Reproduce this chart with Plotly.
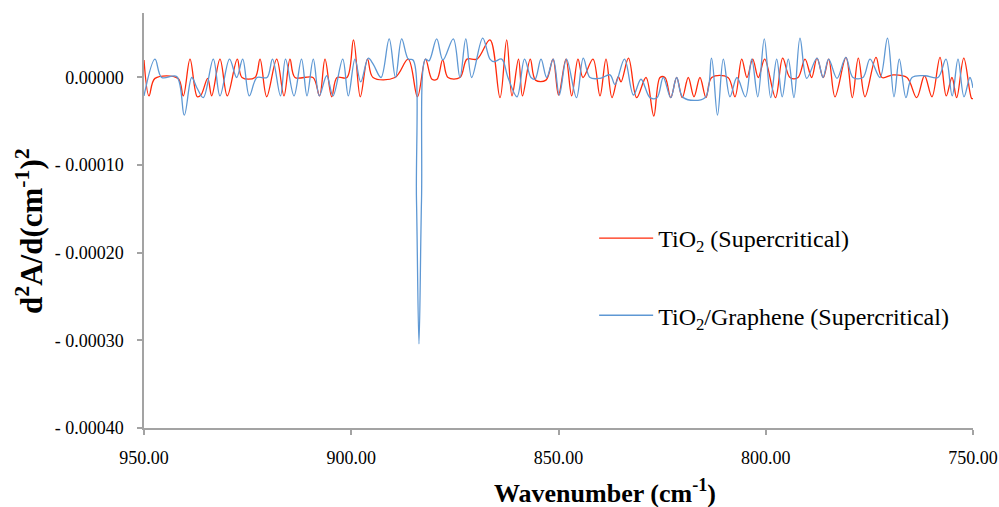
import plotly.graph_objects as go

# Second-derivative FTIR spectra, values in units of 1e-5
UNIT = 1e-5

wn_tio2 = [950.00, 948.79, 947.35, 941.80, 940.52, 938.90, 937.14, 936.25, 934.63, 933.67,
           931.67, 929.90, 927.49, 926.36, 923.22, 922.01, 920.40, 917.99, 916.23, 914.78,
           913.57, 909.23, 907.66, 906.33, 904.72, 903.44, 901.03, 899.46, 897.82, 896.08,
           894.75, 889.45, 886.26, 884.02, 882.09, 880.52, 879.31, 877.94, 876.66, 873.77,
           872.08, 869.66, 866.53, 864.11, 862.50, 861.22, 859.65, 858.69, 856.81, 855.55,
           853.02, 851.33, 850.00, 848.19, 846.82, 845.30, 844.09, 841.68, 839.99, 838.54,
           837.09, 835.58, 834.92, 833.11, 831.14, 828.89, 827.01, 825.51, 824.31, 822.93,
           821.49, 820.14, 818.69, 817.31, 815.87, 814.42, 813.04, 809.11, 807.42, 805.80,
           804.53, 803.15, 801.80, 800.26, 797.65, 795.91, 794.15, 792.22, 790.53, 788.92,
           787.64, 786.12, 784.82, 783.30, 780.64, 779.12, 777.67, 776.06, 773.40, 771.96,
           769.30, 765.93, 763.59, 761.70, 759.90, 757.96, 756.45, 755.07, 753.94, 752.22,
           750.32, 750.00]
d2_tio2 = [2.0, -2.1, -0.1, -0.1, -2.1, 2.1, -2.2, -2.0, -0.1, -2.1,
           2.1, -2.1, 2.1, 0.0, 0.0, 2.1, -2.2, 2.1, -2.1, 2.1,
           0.0, 0.0, -2.1, 2.1, -2.2, 0.0, 0.0, 4.3, -2.2, 2.1,
           0.0, 0.0, 2.1, -2.2, 2.1, -0.2, -0.2, 2.0, 0.0, 0.0,
           2.1, 2.1, 4.3, -2.3, 4.3, -2.1, 2.1, -2.1, 2.1, -0.3,
           -0.3, 2.1, -2.0, 2.1, -2.1, 2.1, 0.0, 2.1, -2.1, 2.1,
           -2.3, 0.1, -0.5, 2.2, -2.3, 0.0, -4.4, 0.0, 0.0, -2.3,
           0.0, -2.3, 0.0, -2.2, 0.0, -2.3, 0.0, 0.0, -2.2, 2.1,
           0.0, 2.1, 0.0, 2.1, -2.3, 2.2, 0.0, 0.0, 2.1, 0.0,
           2.2, 0.0, 2.1, -2.2, 2.3, -2.3, 2.2, -2.2, 2.3, 0.0,
           0.3, 0.0, -2.3, 0.2, -2.2, 2.3, -2.1, 0.0, -2.3, 2.2,
           -2.4, -2.4]

wn_tio2_gr = [950.00, 947.35, 945.73, 942.11, 940.28, 938.49, 937.21, 935.69, 933.28, 931.67,
              929.37, 927.64, 926.19, 924.60, 922.74, 920.33, 919.00, 917.07, 915.86, 913.81,
              912.00, 910.68, 909.16, 907.71, 905.92, 904.40, 902.06, 900.71, 899.10, 897.72,
              895.89, 894.68, 892.82, 890.85, 889.33, 887.83, 886.24, 885.10, 884.26, 883.66,
              883.05, 882.09, 881.24, 879.39, 877.87, 875.38, 873.77, 872.37, 870.94, 868.29,
              866.53, 865.56, 863.70, 862.19, 860.01, 858.20, 856.64, 855.67, 854.22, 852.85,
              851.26, 849.81, 848.07, 845.66, 844.02, 842.40, 839.99, 837.58, 836.37, 834.08,
              831.91, 830.10, 827.93, 826.24, 824.72, 822.93, 821.49, 819.89, 814.66, 813.09,
              811.64, 810.24, 808.63, 806.94, 804.89, 803.39, 801.92, 800.35, 798.81, 797.36,
              796.03, 794.56, 793.19, 791.74, 790.12, 787.64, 786.19, 784.82, 782.81, 780.69,
              778.95, 776.54, 774.85, 772.44, 770.63, 769.06, 767.78, 766.17, 764.72, 761.58,
              758.45, 756.52, 755.02, 753.62, 752.17, 750.73, 750.00]
d2_tio2_gr = [-2.1, 2.1, 0.0, 0.1, -4.3, 0.0, -1.2, -2.3, 2.1, -2.1,
              2.1, 0.0, 2.1, -2.1, 0.0, 0.0, 2.1, -2.1, 2.1, -2.1,
              2.1, -2.1, 2.1, -2.1, 0.2, -2.1, 2.1, -2.1, 2.1, -0.5,
              2.2, 1.5, 0.0, 4.4, 0.0, 4.4, 2.1, 2.0, -14.0, -30.4,
              -14.0, 2.1, 1.9, 4.4, 2.0, 4.4, 0.0, 4.4, 0.0, 4.5,
              2.1, 1.8, 2.1, 0.0, -2.2, 2.1, 0.0, -0.2, 2.1, 0.0,
              2.1, -2.0, 2.1, -2.3, 2.2, 0.0, -0.1, 0.3, -0.8, 2.1,
              -2.0, -0.2, -2.3, -2.3, 0.0, -2.3, 0.0, -2.3, -2.3, 2.2,
              -4.3, 2.1, -2.2, 0.0, -2.2, 2.1, -2.2, 4.4, -2.3, 2.1,
              -2.2, 2.1, -2.3, 4.5, -0.1, 2.2, 0.0, 2.1, -0.1, 2.3,
              0.0, 0.0, 2.1, 0.0, 4.5, -2.2, 2.1, -2.3, 0.0, 0.2,
              0.0, 2.1, -2.1, 2.1, -2.2, 0.0, -1.2]

x_ticks = [950, 900, 850, 800, 750]
x_tick_text = ["950.00", "900.00", "850.00", "800.00", "750.00"]
y_ticks = [0.0, -0.0001, -0.0002, -0.0003, -0.0004]
y_tick_text = ["0.00000", "- 0.00010", "- 0.00020", "- 0.00030", "- 0.00040"]

SERIF = "Liberation Serif"
RED = "#ff2a0a"
BLUE = "#5e98d4"
AXIS = "#a3a3a3"

fig = go.Figure()
fig.add_trace(go.Scatter(
    x=wn_tio2, y=[v * UNIT for v in d2_tio2], mode="lines",
    line=dict(color=RED, width=1.3, shape="spline", smoothing=1.0),
    name="TiO<sub>2</sub> (Supercritical)", legendgroup="a"))
fig.add_trace(go.Scatter(
    x=wn_tio2_gr, y=[v * UNIT for v in d2_tio2_gr], mode="lines",
    line=dict(color=BLUE, width=1.3, shape="spline", smoothing=1.0),
    name="TiO<sub>2</sub>/Graphene (Supercritical)", legendgroup="b"))

fig.update_layout(
    width=999, height=507,
    margin=dict(l=144, r=26, t=13, b=79, autoexpand=False),
    paper_bgcolor="white", plot_bgcolor="white",
    font=dict(family=SERIF, color="black", size=18),
    showlegend=True,
    legend=dict(x=0.543, y=0.364, xanchor="left", yanchor="middle",
                font=dict(family=SERIF, size=24, color="black"),
                bgcolor="rgba(0,0,0,0)", itemwidth=54,
                traceorder="grouped", tracegroupgap=43),
    xaxis=dict(range=[950, 750], tickvals=x_ticks, ticktext=x_tick_text,
               showgrid=False, zeroline=False, showline=True, automargin=False,
               linecolor=AXIS, linewidth=1.5, ticks="outside", ticklen=5,
               tickcolor=AXIS, tickwidth=1.5, ticklabelstandoff=8,
               tickfont=dict(family=SERIF, size=18)),
    yaxis=dict(range=[-0.0004, 0.0000736], tickvals=y_ticks, ticktext=y_tick_text,
               showgrid=False, zeroline=False, showline=True, automargin=False,
               linecolor=AXIS, linewidth=1.5, ticks="outside", ticklen=5,
               tickcolor=AXIS, tickwidth=1.5, ticklabelstandoff=10,
               tickfont=dict(family=SERIF, size=18)),
    annotations=[
        dict(text="<b>Wavenumber (cm<sup>-1</sup>)</b>", xref="paper", yref="paper",
             x=0.556, y=-0.153, xanchor="center", yanchor="middle", showarrow=False,
             font=dict(family=SERIF, size=26, color="black")),
        dict(text="<b>d<sup>2</sup>A/d(cm<sup>-1</sup>)<sup>2</sup></b>", xref="paper", yref="paper",
             x=-0.1375, y=0.475, xanchor="center", yanchor="middle", textangle=-90,
             showarrow=False, font=dict(family=SERIF, size=31, color="black")),
    ],
)

fig.write_html("out.html")
